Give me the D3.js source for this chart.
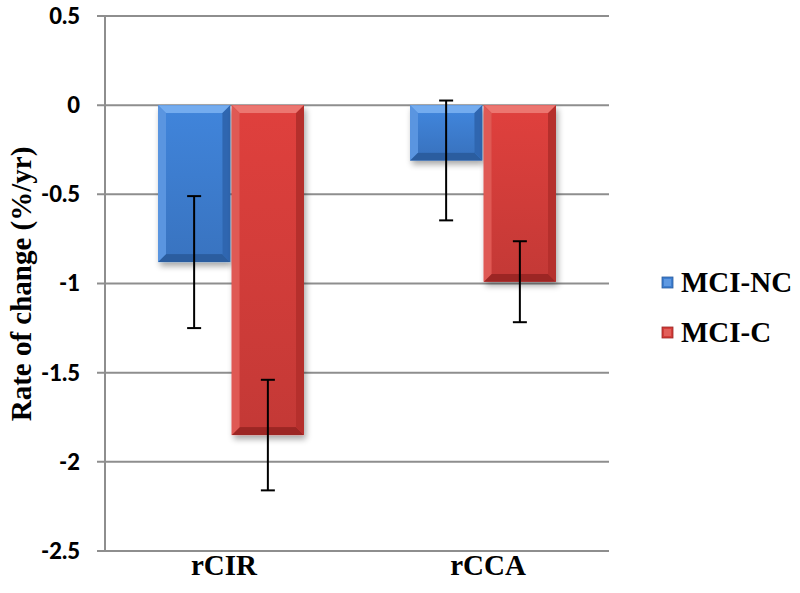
<!DOCTYPE html>
<html>
<head>
<meta charset="utf-8">
<script src="https://cdn.jsdelivr.net/npm/d3@7/dist/d3.min.js"></script>
<style>
  html, body { margin: 0; padding: 0; background: #ffffff; }
  svg { display: block; }
</style>
</head>
<body>
<svg id="chart" width="800" height="593"></svg>
<script>
const categories = ["rCIR", "rCCA"];
const series = ["MCI-NC", "MCI-C"];
const ncValues = [-0.88, -0.31];
const cValues = [-1.85, -0.99];
const ncErr = [0.37, 0.336];
const cErr = [0.31, 0.227];
const yTicks = [0.5, 0, -0.5, -1, -1.5, -2, -2.5];
const yTickLabels = ["0.5", "0", "-0.5", "-1", "-1.5", "-2", "-2.5"];
const yTitle = "Rate of change (%/yr)";

(function () {
const svg = d3.select("#chart");
const pLeft = 105, pRight = 609, pTop = 16, pBottom = 551;

const y = d3.scaleLinear().domain([-2.5, 0.5]).range([pBottom, pTop]);
const x0 = d3.scaleBand().domain(categories).range([pLeft, pRight]).padding(0);
const x1 = d3.scaleBand().domain(series)
  .range([x0.bandwidth() / 2 - 73, x0.bandwidth() / 2 + 73]).paddingInner(0.02);

const palette = {
  "MCI-NC": { face: "#3d7dcf", top: "#74acef", bottom: "#2b5d9f", left: "#5a95e0", right: "#2f66b0" },
  "MCI-C":  { face: "#d33d3a", top: "#ec7670", bottom: "#9c2624", left: "#df5954", right: "#b52f2c" }
};

const defs = svg.append("defs");
const filt = defs.append("filter").attr("id", "shadow")
  .attr("x", "-20%").attr("y", "-20%").attr("width", "140%").attr("height", "140%");
filt.append("feGaussianBlur").attr("in", "SourceAlpha").attr("stdDeviation", 3).attr("result", "b");
filt.append("feOffset").attr("in", "b").attr("dx", 2).attr("dy", 4).attr("result", "o");
filt.append("feComponentTransfer").attr("in", "o").attr("result", "o2")
  .append("feFuncA").attr("type", "linear").attr("slope", 0.35);
const fm = filt.append("feMerge");
fm.append("feMergeNode").attr("in", "o2");
fm.append("feMergeNode").attr("in", "SourceGraphic");

Object.keys(palette).forEach((k, i) => {
  const g = defs.append("linearGradient").attr("id", "face" + i)
    .attr("x1", 0).attr("y1", 0).attr("x2", 0).attr("y2", 1);
  const c = d3.color(palette[k].face);
  g.append("stop").attr("offset", "0%").attr("stop-color", c.brighter(0.15));
  g.append("stop").attr("offset", "100%").attr("stop-color", c.darker(0.2));
});

// gridlines + tick marks
svg.append("g").selectAll("line").data(yTicks).enter().append("line")
  .attr("x1", pLeft - 8).attr("x2", pRight)
  .attr("y1", d => y(d)).attr("y2", d => y(d))
  .attr("stroke", "#8e8e8e").attr("stroke-width", 2);

// left axis line
svg.append("line").attr("x1", pLeft).attr("x2", pLeft).attr("y1", pTop).attr("y2", pBottom)
  .attr("stroke", "#8e8e8e").attr("stroke-width", 2);

// y tick labels
svg.append("g").selectAll("text").data(yTicks).enter().append("text")
  .attr("x", 80).attr("y", d => y(d)).attr("dy", "0.36em")
  .attr("text-anchor", "end")
  .attr("font-family", "Lato, 'Open Sans', sans-serif").attr("font-weight", 900)
  .attr("font-size", 22).attr("fill", "#000")
  .text((d, i) => yTickLabels[i]);

// y title
svg.append("text")
  .attr("transform", "translate(31,284) rotate(-90)")
  .attr("text-anchor", "middle")
  .attr("font-family", "'Liberation Serif', 'Times New Roman', serif").attr("font-weight", "bold")
  .attr("font-size", 29).attr("fill", "#000")
  .text(yTitle);

// x labels
svg.append("g").selectAll("text").data(categories).enter().append("text")
  .attr("x", d => x0(d) + x0.bandwidth() / 2 + (d === "rCIR" ? -7 : 5)).attr("y", 575)
  .attr("text-anchor", "middle")
  .attr("font-family", "'Liberation Serif', 'Times New Roman', serif").attr("font-weight", "bold")
  .attr("font-size", 29).attr("fill", "#000")
  .text(d => d);

// bars
const rows = [];
categories.forEach((c, i) => {
  rows.push({ cat: c, s: "MCI-NC", v: ncValues[i], e: ncErr[i], idx: 0 });
  rows.push({ cat: c, s: "MCI-C", v: cValues[i], e: cErr[i], idx: 1 });
});

const bev = 8;
const barG = svg.append("g");
rows.forEach(r => {
  const bx = x0(r.cat) + x1(r.s);
  const bw = x1.bandwidth();
  const ya = y(Math.max(0, r.v)), yb = y(Math.min(0, r.v));
  const h = yb - ya;
  const p = palette[r.s];
  const g = barG.append("g");
  g.append("rect").attr("x", bx).attr("y", ya).attr("width", bw).attr("height", h)
    .attr("fill", p.face).attr("filter", "url(#shadow)");
  const bb = Math.min(bev, h / 2);
  g.append("polygon").attr("points", [[bx, ya], [bx + bw, ya], [bx + bw - bb, ya + bb], [bx + bb, ya + bb]].join(" "))
    .attr("fill", p.top);
  g.append("polygon").attr("points", [[bx, yb], [bx + bw, yb], [bx + bw - bb, yb - bb], [bx + bb, yb - bb]].join(" "))
    .attr("fill", p.bottom);
  g.append("polygon").attr("points", [[bx, ya], [bx + bb, ya + bb], [bx + bb, yb - bb], [bx, yb]].join(" "))
    .attr("fill", p.left);
  g.append("polygon").attr("points", [[bx + bw, ya], [bx + bw - bb, ya + bb], [bx + bw - bb, yb - bb], [bx + bw, yb]].join(" "))
    .attr("fill", p.right);
  g.append("rect").attr("x", bx + bb).attr("y", ya + bb).attr("width", bw - 2 * bb).attr("height", Math.max(0, h - 2 * bb))
    .attr("fill", "url(#face" + r.idx + ")");
});

// error bars
const errG = svg.append("g").attr("stroke", "#000").attr("stroke-width", 2);
rows.forEach(r => {
  const cx = x0(r.cat) + x1(r.s) + x1.bandwidth() / 2;
  const yt = y(r.v + r.e), ybt = y(r.v - r.e);
  errG.append("line").attr("x1", cx).attr("x2", cx).attr("y1", yt).attr("y2", ybt);
  errG.append("line").attr("x1", cx - 7).attr("x2", cx + 7).attr("y1", yt).attr("y2", yt);
  errG.append("line").attr("x1", cx - 7).attr("x2", cx + 7).attr("y1", ybt).attr("y2", ybt);
});

// legend
const leg = svg.append("g");
series.forEach((s, i) => {
  const ly = 292 + i * 50;
  const p = palette[s];
  leg.append("rect").attr("x", 662).attr("y", ly - 15).attr("width", 11).attr("height", 11)
    .attr("fill", p.face).attr("stroke", p.bottom).attr("stroke-width", 0.8);
  leg.append("rect").attr("x", 664).attr("y", ly - 13).attr("width", 7).attr("height", 7)
    .attr("fill", p.top).attr("opacity", 0.6);
  leg.append("text").attr("x", 681).attr("y", ly)
    .attr("font-family", "'Liberation Serif', 'Times New Roman', serif").attr("font-weight", "bold")
    .attr("font-size", 29).attr("fill", "#000")
    .text(s);
});
})();
</script>
</body>
</html>
